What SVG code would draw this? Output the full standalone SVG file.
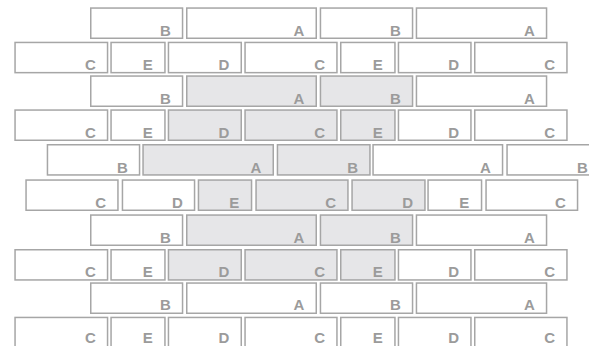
<svg xmlns="http://www.w3.org/2000/svg" width="589" height="346" viewBox="0 0 589 346">
<style>
rect{fill:#fff;stroke:#a6a6a6;stroke-width:1.5}
rect.s{fill:#e6e6e8}
text{font-family:"Liberation Sans",Arial,sans-serif;font-weight:700;font-size:15px;fill:#9b9b9b;text-anchor:middle}
</style>
<rect x="0" y="0" width="589" height="346" style="fill:#fff;stroke:none"/>
<!-- Row 1 -->
<g id="r1b1"><rect x="90.75" y="8.05" width="91.8" height="30.2"/><text x="165.3" y="35.6">B</text></g>
<g id="r1a1"><rect x="186.75" y="8.05" width="129.5" height="30.2"/><text x="299" y="35.6">A</text></g>
<g id="r1b2"><rect x="320.45" y="8.05" width="92.1" height="30.2"/><text x="395.3" y="35.6">B</text></g>
<g id="r1a2"><rect x="416.45" y="8.05" width="130.1" height="30.2"/><text x="529.3" y="35.6">A</text></g>
<!-- Row 2 -->
<g id="r2c1"><rect x="15.05" y="42.45" width="92.5" height="30.2"/><text x="90.3" y="69.6">C</text></g>
<g id="r2e1"><rect x="111.05" y="42.45" width="53.9" height="30.2"/><text x="147.7" y="69.6">E</text></g>
<g id="r2d1"><rect x="168.45" y="42.45" width="72.8" height="30.2"/><text x="224" y="69.6">D</text></g>
<g id="r2c2"><rect x="245.05" y="42.45" width="91.9" height="30.2"/><text x="319.7" y="69.6">C</text></g>
<g id="r2e2"><rect x="340.75" y="42.45" width="54.2" height="30.2"/><text x="377.7" y="69.6">E</text></g>
<g id="r2d2"><rect x="398.45" y="42.45" width="72.5" height="30.2"/><text x="453.7" y="69.6">D</text></g>
<g id="r2c3"><rect x="474.75" y="42.45" width="92.2" height="30.2"/><text x="549.7" y="69.6">C</text></g>
<!-- Row 3 -->
<g id="r3b1"><rect x="90.75" y="76.05" width="91.8" height="30.2"/><text x="165.3" y="103.6">B</text></g>
<g id="r3a1"><rect class="s" x="186.75" y="76.05" width="129.5" height="30.2"/><text x="299" y="103.6">A</text></g>
<g id="r3b2"><rect class="s" x="320.45" y="76.05" width="92.1" height="30.2"/><text x="395.3" y="103.6">B</text></g>
<g id="r3a2"><rect x="416.45" y="76.05" width="130.1" height="30.2"/><text x="529.3" y="103.6">A</text></g>
<!-- Row 4 -->
<g id="r4c1"><rect x="15.05" y="110.05" width="92.5" height="30.2"/><text x="90.3" y="137.6">C</text></g>
<g id="r4e1"><rect x="111.05" y="110.05" width="53.9" height="30.2"/><text x="147.7" y="137.6">E</text></g>
<g id="r4d1"><rect class="s" x="168.45" y="110.05" width="72.8" height="30.2"/><text x="224" y="137.6">D</text></g>
<g id="r4c2"><rect class="s" x="245.05" y="110.05" width="91.9" height="30.2"/><text x="319.7" y="137.6">C</text></g>
<g id="r4e2"><rect class="s" x="340.75" y="110.05" width="54.2" height="30.2"/><text x="377.7" y="137.6">E</text></g>
<g id="r4d2"><rect x="398.45" y="110.05" width="72.5" height="30.2"/><text x="453.7" y="137.6">D</text></g>
<g id="r4c3"><rect x="474.75" y="110.05" width="92.2" height="30.2"/><text x="549.7" y="137.6">C</text></g>
<!-- Row 5 -->
<g id="r5b1"><rect x="47.45" y="144.75" width="92.1" height="30.2"/><text x="122.3" y="172.5">B</text></g>
<g id="r5a1"><rect class="s" x="143.05" y="144.75" width="130.2" height="30.2"/><text x="256" y="172.5">A</text></g>
<g id="r5b2"><rect class="s" x="277.45" y="144.75" width="92.5" height="30.2"/><text x="352.7" y="172.5">B</text></g>
<g id="r5a2"><rect x="373.05" y="144.75" width="129.5" height="30.2"/><text x="485.3" y="172.5">A</text></g>
<g id="r5b3"><rect x="507.05" y="144.75" width="92.2" height="30.2"/><text x="582.3" y="172.5">B</text></g>
<!-- Row 6 -->
<g id="r6c1"><rect x="26.05" y="180.05" width="91.9" height="30.2"/><text x="100.7" y="207.6">C</text></g>
<g id="r6d1"><rect x="122.45" y="180.05" width="72.1" height="30.2"/><text x="177.3" y="207.6">D</text></g>
<g id="r6e1"><rect class="s" x="198.45" y="180.05" width="53.1" height="30.2"/><text x="234.3" y="207.6">E</text></g>
<g id="r6c2"><rect class="s" x="256.05" y="180.05" width="91.9" height="30.2"/><text x="330.7" y="207.6">C</text></g>
<g id="r6d2"><rect class="s" x="352.05" y="180.05" width="72.9" height="30.2"/><text x="407.7" y="207.6">D</text></g>
<g id="r6e2"><rect x="428.05" y="180.05" width="53.5" height="30.2"/><text x="464.3" y="207.6">E</text></g>
<g id="r6c3"><rect x="486.05" y="180.05" width="91.5" height="30.2"/><text x="560.3" y="207.6">C</text></g>
<!-- Row 7 -->
<g id="r7b1"><rect x="90.75" y="215.05" width="91.8" height="30.2"/><text x="165.3" y="242.6">B</text></g>
<g id="r7a1"><rect class="s" x="186.75" y="215.05" width="129.5" height="30.2"/><text x="299" y="242.6">A</text></g>
<g id="r7b2"><rect class="s" x="320.45" y="215.05" width="92.1" height="30.2"/><text x="395.3" y="242.6">B</text></g>
<g id="r7a2"><rect x="416.45" y="215.05" width="130.1" height="30.2"/><text x="529.3" y="242.6">A</text></g>
<!-- Row 8 -->
<g id="r8c1"><rect x="15.05" y="249.75" width="92.5" height="30.2"/><text x="90.3" y="277">C</text></g>
<g id="r8e1"><rect x="111.05" y="249.75" width="53.9" height="30.2"/><text x="147.7" y="277">E</text></g>
<g id="r8d1"><rect class="s" x="168.45" y="249.75" width="72.8" height="30.2"/><text x="224" y="277">D</text></g>
<g id="r8c2"><rect class="s" x="245.05" y="249.75" width="91.9" height="30.2"/><text x="319.7" y="277">C</text></g>
<g id="r8e2"><rect class="s" x="340.75" y="249.75" width="54.2" height="30.2"/><text x="377.7" y="277">E</text></g>
<g id="r8d2"><rect x="398.45" y="249.75" width="72.5" height="30.2"/><text x="453.7" y="277">D</text></g>
<g id="r8c3"><rect x="474.75" y="249.75" width="92.2" height="30.2"/><text x="549.7" y="277">C</text></g>
<!-- Row 9 -->
<g id="r9b1"><rect x="90.75" y="283.05" width="91.8" height="30.2"/><text x="165.3" y="310.4">B</text></g>
<g id="r9a1"><rect x="186.75" y="283.05" width="129.5" height="30.2"/><text x="299" y="310.4">A</text></g>
<g id="r9b2"><rect x="320.45" y="283.05" width="92.1" height="30.2"/><text x="395.3" y="310.4">B</text></g>
<g id="r9a2"><rect x="416.45" y="283.05" width="130.1" height="30.2"/><text x="529.3" y="310.4">A</text></g>
<!-- Row 10 -->
<g id="r10c1"><rect x="15.05" y="317.45" width="92.5" height="30.2"/><text x="90.3" y="343">C</text></g>
<g id="r10e1"><rect x="111.05" y="317.45" width="53.9" height="30.2"/><text x="147.7" y="343">E</text></g>
<g id="r10d1"><rect x="168.45" y="317.45" width="72.8" height="30.2"/><text x="224" y="343">D</text></g>
<g id="r10c2"><rect x="245.05" y="317.45" width="91.9" height="30.2"/><text x="319.7" y="343">C</text></g>
<g id="r10e2"><rect x="340.75" y="317.45" width="54.2" height="30.2"/><text x="377.7" y="343">E</text></g>
<g id="r10d2"><rect x="398.45" y="317.45" width="72.5" height="30.2"/><text x="453.7" y="343">D</text></g>
<g id="r10c3"><rect x="474.75" y="317.45" width="92.2" height="30.2"/><text x="549.7" y="343">C</text></g>
<g id="connectors"></g>
</svg>
